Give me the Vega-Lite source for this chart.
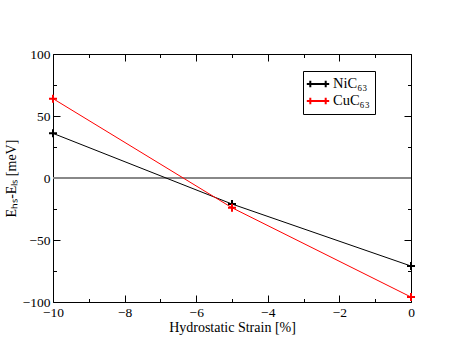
{
  "$schema": "https://vega.github.io/schema/vega-lite/v6.json",
  "width": 358,
  "height": 248,
  "autosize": {"type": "none"},
  "padding": {"left": 53, "top": 54, "right": 52, "bottom": 56},
  "background": "white",
  "config": {
    "font": "Liberation Serif, Times New Roman, serif",
    "view": {"stroke": "black", "strokeWidth": 1},
    "axis": {
      "domain": false,
      "grid": false,
      "labelFlush": false,
      "labelOverlap": false,
      "tickColor": "black",
      "tickWidth": 1,
      "labelFont": "Liberation Serif, Times New Roman, serif",
      "labelFontSize": 13.5,
      "labelColor": "black",
      "titleFont": "Liberation Serif, Times New Roman, serif",
      "titleFontSize": 14,
      "titleFontWeight": "normal",
      "titleColor": "black"
    }
  },
  "datasets": {
    "pts": [
      {"strain": -10, "dE": 36, "series": "NiC₆₃"},
      {"strain": -5, "dE": -21, "series": "NiC₆₃"},
      {"strain": 0, "dE": -71, "series": "NiC₆₃"},
      {"strain": -10, "dE": 64, "series": "CuC₆₃"},
      {"strain": -5, "dE": -24, "series": "CuC₆₃"},
      {"strain": 0, "dE": -96, "series": "CuC₆₃"}
    ]
  },
  "layer": [
    {
      "data": {"values": [{"y": 0}]},
      "mark": {"type": "rule", "color": "#888888", "strokeWidth": 2},
      "encoding": {
        "y": {"field": "y", "type": "quantitative", "scale": {"domain": [-100, 100], "nice": false}, "axis": null}
      }
    },
    {
      "data": {"name": "pts"},
      "mark": {"type": "line", "strokeWidth": 1},
      "encoding": {
        "x": {"field": "strain", "type": "quantitative", "scale": {"domain": [-10, 0], "nice": false, "zero": false},
              "axis": {"orient": "bottom", "values": [-10, -8, -6, -4, -2, 0], "tickSize": -7, "labelPadding": 10, "title": "Hydrostatic Strain [%]", "titlePadding": 2}},
        "y": {"field": "dE", "type": "quantitative", "scale": {"domain": [-100, 100], "nice": false},
              "axis": {"orient": "left", "values": [-100, -50, 0, 50, 100], "tickSize": -7, "labelPadding": 10, "title": "Eₕₛ-Eₗₛ [meV]", "titlePadding": 4}},
        "color": {"field": "series", "type": "nominal", "scale": {"domain": ["NiC₆₃", "CuC₆₃"], "range": ["black", "red"]},
                  "legend": {"title": null, "orient": "none", "legendX": 250, "legendY": 17, "strokeColor": "black", "fillColor": "white", "padding": 5, "cornerRadius": 0,
                             "symbolType": "M-1.6,0H1.6M-1.1,-0.45V0.45M1.1,-0.45V0.45", "symbolSize": 196, "symbolStrokeWidth": 2, "symbolOffset": 2,
                             "labelFont": "Liberation Serif, Times New Roman, serif", "labelFontSize": 14.5, "labelColor": "black", "rowPadding": 1, "labelOffset": 7}}
      }
    },
    {
      "data": {"name": "pts"},
      "mark": {"type": "point", "shape": "M-1,0H1M0,-1V1", "size": 64, "strokeWidth": 2, "opacity": 1, "filled": false},
      "encoding": {
        "x": {"field": "strain", "type": "quantitative",
              "axis": {"orient": "bottom", "values": [-9, -7, -5, -3, -1], "tickSize": -3.5, "labels": false, "title": null}},
        "y": {"field": "dE", "type": "quantitative",
              "axis": {"orient": "left", "values": [-75, -25, 25, 75], "tickSize": -3.5, "labels": false, "title": null}},
        "color": {"field": "series", "type": "nominal", "legend": null}
      }
    },
    {
      "data": {"name": "pts"},
      "mark": {"type": "point", "opacity": 0},
      "encoding": {
        "x": {"field": "strain", "type": "quantitative",
              "axis": {"orient": "top", "values": [-10, -8, -6, -4, -2, 0], "tickSize": -7, "labels": false, "title": null}},
        "y": {"field": "dE", "type": "quantitative",
              "axis": {"orient": "right", "values": [-100, -50, 0, 50, 100], "tickSize": -7, "labels": false, "title": null}}
      }
    },
    {
      "data": {"name": "pts"},
      "mark": {"type": "point", "opacity": 0},
      "encoding": {
        "x": {"field": "strain", "type": "quantitative",
              "axis": {"orient": "top", "values": [-9, -7, -5, -3, -1], "tickSize": -3.5, "labels": false, "title": null}},
        "y": {"field": "dE", "type": "quantitative",
              "axis": {"orient": "right", "values": [-75, -25, 25, 75], "tickSize": -3.5, "labels": false, "title": null}}
      }
    }
  ],
  "resolve": {"axis": {"x": "independent", "y": "independent"}}
}
